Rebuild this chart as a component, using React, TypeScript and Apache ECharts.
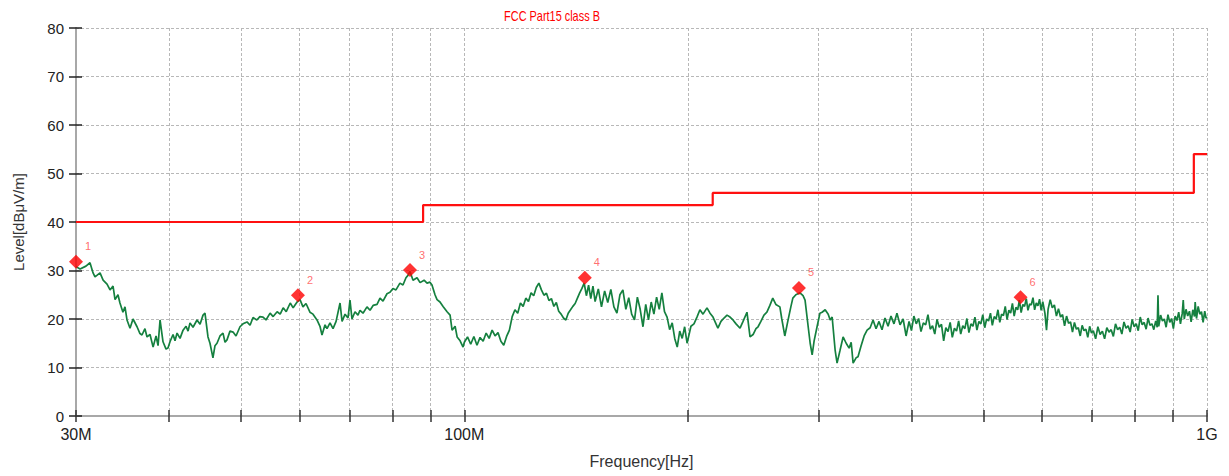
import React, { useEffect, useRef } from "react";
import * as echarts from "echarts";

const chartTitle = "FCC Part15 class B";
const xAxisName = "Frequency[Hz]";
const yAxisName = "Level[dBμV/m]";

// Limit line (MHz, dBμV/m)
const limitFreqs = [30, 88, 88, 216, 216, 960, 960, 1000];
const limitLevels = [40, 40, 43.5, 43.5, 46, 46, 54, 54];

// Peak markers
const markerNames = ["1", "2", "3", "4", "5", "6"];
const markerFreqs = [30, 59.7, 84.5, 145.3, 282.2, 561];
const markerLevels = [31.8, 24.9, 30.1, 28.5, 26.4, 24.5];

// Axis ticks
const xTickValues = [30, 40, 50, 60, 70, 80, 90, 100, 200, 300, 400, 500, 600, 700, 800, 900, 1000];
const xLabelValues = [30, 100, 1000];
const xLabelTexts = ["30M", "100M", "1G"];

// Measured trace [MHz, dBμV/m]
const trace30to50 = [
  [30.0, 30.8], [30.38, 30.3], [30.94, 30.9], [31.33, 31.6], [31.63, 29.5], [31.82, 28.7], [32.32, 29.5], [32.63, 28.0],
  [33.03, 27.2], [33.34, 26.0], [33.65, 26.8], [33.86, 24.0], [34.17, 25.0], [34.38, 23.3], [34.7, 21.4], [34.92, 22.5],
  [35.14, 19.8], [35.47, 18.1], [35.8, 20.0], [36.25, 18.4], [36.58, 17.0], [36.81, 16.7], [37.15, 18.0], [37.39, 16.3],
  [37.74, 16.8], [38.1, 14.2], [38.45, 16.5], [38.69, 14.5], [38.93, 19.8], [39.29, 15.3], [39.66, 13.8], [39.9, 14.0],
  [40.15, 15.3], [40.53, 16.8], [40.78, 15.5], [41.04, 17.1], [41.42, 16.0], [41.81, 17.7], [42.2, 18.5], [42.46, 17.5],
  [42.72, 19.2], [43.12, 18.3], [43.66, 19.8], [44.07, 18.9], [44.48, 20.8], [44.75, 21.2], [45.17, 16.3], [45.45, 15.0],
  [45.87, 12.0], [46.16, 14.5], [46.45, 15.0], [46.88, 16.5], [47.32, 17.1], [47.62, 15.2], [47.91, 15.7], [48.36, 17.5],
  [48.82, 17.3], [49.27, 16.5], [49.88, 18.4],
];
const trace50to100 = [
  [50.35, 19.0], [50.98, 19.4], [51.46, 18.7], [51.94, 20.3], [52.56, 19.8], [53.05, 20.5], [53.57, 20.4], [54.07, 19.8],
  [54.76, 21.2], [55.28, 20.5], [55.97, 21.5], [56.5, 21.0], [57.03, 22.3], [57.57, 21.5], [58.29, 23.3], [58.82, 22.3],
  [59.54, 23.5], [60.08, 24.0], [60.64, 22.5], [61.21, 23.2], [61.96, 21.4], [62.55, 21.0], [63.33, 19.8], [63.92, 18.5],
  [64.32, 16.7], [64.93, 18.8], [65.33, 18.0], [65.94, 19.2], [66.56, 18.0], [67.19, 19.5], [68.02, 23.3], [68.45, 19.5],
  [69.09, 21.0], [69.72, 20.2], [70.15, 23.9], [70.59, 20.0], [71.25, 21.5], [71.91, 20.8], [72.36, 21.8], [73.04, 21.2],
  [73.95, 22.5], [74.65, 21.8], [75.37, 22.8], [76.29, 23.0], [77.0, 24.3], [77.71, 23.7], [78.68, 25.2], [79.41, 25.5],
  [80.15, 26.3], [80.9, 26.0], [81.9, 27.4], [82.68, 27.0], [83.45, 28.5], [83.97, 29.0], [84.5, 29.8], [85.29, 28.0],
  [86.36, 28.5], [87.18, 27.5], [88.27, 28.0], [89.08, 27.4], [89.89, 27.6], [90.46, 27.0], [91.31, 25.0], [91.89, 24.0],
  [92.73, 23.5], [93.62, 22.6], [94.79, 21.5], [95.68, 20.8], [96.27, 17.7], [97.18, 18.5], [97.79, 16.3], [98.7, 15.5],
  [99.61, 14.2],
];
const trace100to200 = [
  [100, 15.2], [101, 16.3], [102, 14.8], [103, 16.4], [104, 14.6], [105, 16.2], [106, 15.4], [107, 17.1],
  [108, 16.0], [109, 17.7], [110, 16.5], [111, 17.2], [112, 15.4], [113, 14.6], [114, 16.4], [115, 17.7],
  [116, 20.5], [117, 21.9], [118, 21.2], [119, 23.3], [120, 22.6], [121, 24.3], [122, 23.6], [123, 25.4],
  [124, 24.8], [125, 26.5], [126, 27.4], [127, 26.0], [128, 24.9], [129, 25.3], [130, 23.8], [131, 24.2],
  [132, 22.6], [133, 23.4], [134, 21.6], [135, 21.0], [136, 20.2], [137, 19.8], [138, 21.2], [139, 21.9],
  [140, 22.6], [141, 23.2], [142, 24.3], [143, 25.4], [144, 26.3], [145, 27.4], [146, 24.8], [147, 27.0],
  [148, 24.2], [149, 26.8], [150, 23.6], [151.5, 26.2], [153, 22.5], [154.5, 25.8], [156, 23.4], [157.5, 26.1],
  [159, 22.5], [160.5, 21.2], [162, 25.0], [163.5, 26.0], [165, 22.0], [166.5, 24.4], [168, 21.0], [169.5, 19.8],
  [171, 24.5], [172.5, 22.0], [174, 18.4], [175.5, 23.0], [177, 19.8], [178.5, 23.5], [180, 21.0], [181.5, 24.5],
  [183, 22.0], [184.5, 25.4], [186, 21.5], [187.5, 20.4], [189, 17.8], [190.5, 19.2], [192, 16.0], [193.5, 14.2],
  [195, 17.5], [196.5, 16.0], [198, 18.4], [199.5, 15.0],
];
const trace200to400 = [
  [201.9, 18.5], [203.8, 19.0], [205.7, 20.4], [207.6, 21.9], [209.6, 21.0], [212.2, 22.3], [214.2, 21.2],
  [216.2, 20.4], [218.2, 19.0], [219.5, 18.1], [221.6, 19.5], [223.7, 20.2], [225.8, 20.8], [227.9, 20.4], [230.0, 19.8],
  [232.2, 19.0], [235.1, 18.1], [237.3, 19.5], [240.2, 21.4], [242.5, 16.3], [244.8, 16.8], [247.0, 18.0], [248.6, 18.4],
  [250.8, 19.5], [253.2, 20.8], [255.5, 21.4], [257.9, 22.8], [260.2, 24.3], [262.7, 23.0], [266.0, 22.5], [267.6, 20.0],
  [270.1, 16.5], [272.6, 19.5], [275.2, 22.5], [276.9, 24.3], [279.5, 25.0], [283.1, 25.4], [285.8, 24.8], [287.6, 23.9],
  [290.4, 18.4], [292.2, 15.0], [294.0, 12.6], [295.8, 15.5], [298.5, 18.4], [301.2, 21.2], [303.2, 21.4], [306.1, 21.9],
  [309.0, 21.0], [310.9, 19.8], [312.8, 20.4], [315.7, 13.6], [317.6, 10.9], [320.5, 13.5], [323.6, 16.3], [326.7, 15.0],
  [329.7, 14.0], [331.8, 15.2], [333.8, 10.9], [336.9, 12.0], [338.9, 12.2], [342.2, 14.5], [345.4, 16.5], [348.6, 17.7],
  [351.9, 18.2], [355.1, 19.8], [358.4, 18.0], [361.7, 19.5], [365.1, 17.8], [368.5, 20.2], [372.0, 18.5], [375.4, 20.6],
  [378.9, 19.0], [382.4, 21.2], [386.1, 18.8], [389.8, 20.0], [393.4, 16.5], [397.0, 19.5],
];
const trace400to600 = [
  [400, 17.6], [403, 20.6], [406, 19.0], [409, 20.1], [412, 17.4], [415, 19.2], [418, 18.8], [421, 20.9],
  [424, 17.9], [427, 18.6], [430, 16.9], [433, 19.9], [436, 18.3], [439, 18.9], [442, 15.5], [445, 18.2],
  [448, 17.4], [451, 19.3], [454, 16.2], [457, 18.1], [460, 17.5], [463, 19.6], [466, 16.9], [469, 18.6],
  [472, 18.0], [475, 20.1], [478, 17.2], [481, 19.0], [484, 18.5], [487, 20.4], [490, 17.7], [493, 19.5],
  [496, 19.0], [499, 20.9], [502, 18.2], [505, 20.0], [508, 19.6], [511, 21.2], [514, 18.7], [517, 20.5],
  [520, 20.0], [523, 21.9], [526, 19.3], [529, 21.0], [532, 20.7], [535, 22.6], [538, 19.9], [541, 21.8],
  [544, 21.2], [547, 23.2], [550, 20.6], [553, 22.4], [556, 21.9], [559, 23.9], [562, 21.3], [565, 23.0],
  [568, 22.6], [571, 24.2], [574, 21.8], [577, 23.1], [580, 22.9], [583, 24.4], [586, 21.9], [589, 23.3],
  [592, 22.7], [595, 24.1], [598, 21.8],
];
const trace600to1000 = [
  [601, 23.6], [605, 21.2], [608, 17.7], [611, 22.0], [615, 24.0], [619, 22.3], [623, 22.9], [627, 20.6],
  [631, 22.1], [635, 20.4], [639, 20.9], [643, 18.6], [647, 20.6], [651, 19.1], [655, 19.4], [659, 17.3],
  [663, 19.3], [667, 17.9], [671, 18.2], [675, 16.5], [679, 18.7], [683, 17.6], [687, 17.9], [691, 16.2],
  [695, 18.5], [699, 17.1], [703, 17.6], [708, 15.9], [713, 18.4], [718, 16.8], [723, 17.5], [728, 15.9],
  [733, 18.2], [738, 17.3], [743, 17.8], [748, 16.4], [753, 19.0], [758, 17.8], [763, 18.3], [768, 16.9],
  [773, 19.4], [778, 18.1], [783, 18.6], [788, 17.3], [793, 19.9], [798, 18.4], [803, 19.0], [808, 17.6],
  [813, 20.4], [818, 18.8], [823, 19.3], [828, 17.9], [833, 20.2], [838, 18.7], [843, 19.0], [848, 17.8],
  [853, 19.6], [857, 18.3], [859, 24.9], [861, 18.5], [866, 20.8], [871, 19.6], [876, 20.0], [881, 18.3],
  [886, 20.9], [891, 19.3], [896, 20.1], [901, 18.0], [906, 20.6], [911, 19.7], [916, 21.4], [921, 19.0],
  [926, 21.1], [929, 23.9], [932, 20.0], [937, 22.0], [942, 20.6], [947, 21.6], [952, 19.4], [957, 21.9],
  [962, 20.5], [964, 23.5], [968, 20.1], [973, 22.6], [978, 21.0], [983, 21.5], [988, 19.3], [993, 21.6],
  [997, 20.2], [1000, 20.4],
];

const FONT = "'Liberation Sans', Arial, sans-serif";

export default function App() {
  const ref = useRef<HTMLDivElement>(null);

  useEffect(() => {
    if (!ref.current) return;
    const chart = echarts.init(ref.current, null, { renderer: "svg" });

    const traceData = [
      ...trace30to50, ...trace50to100, ...trace100to200, ...trace200to400, ...trace400to600, ...trace600to1000,
    ];
    const limitData = limitFreqs.map((f, i) => [f, limitLevels[i]]);
    const markerData = markerFreqs.map((f, i) => ({ name: markerNames[i], value: [f, markerLevels[i]] }));

    const gridLine = { lineStyle: { color: "#b8b8b8", width: 1, type: [3, 2] as any } };

    const xBase = {
      type: "log" as const,
      logBase: 10,
      min: 30,
      max: 1000,
      position: "bottom" as const,
    };

    chart.setOption({
      animation: false,
      backgroundColor: "#ffffff",
      textStyle: { fontFamily: FONT },
      graphic: [
        {
          type: "text",
          x: 552,
          y: 17,
          scaleX: 0.78,
          style: {
            text: chartTitle,
            fill: "#ff0000",
            fontSize: 14,
            fontFamily: FONT,
            textAlign: "center",
            textVerticalAlign: "middle",
          },
        },
      ],
      grid: { left: 76, right: 22, top: 28, bottom: 60 },
      xAxis: [
        {
          ...xBase,
          name: xAxisName,
          nameLocation: "middle",
          nameGap: 37,
          nameTextStyle: { fontSize: 16, color: "#333", fontFamily: FONT },
          axisLine: { show: true, onZero: false, lineStyle: { color: "#a8a8a8", width: 2 } },
          axisTick: { show: true, length: 6, customValues: xTickValues, lineStyle: { color: "#333", width: 1.5 } },
          axisLabel: {
            show: true,
            customValues: xLabelValues,
            margin: 10,
            fontSize: 16,
            color: "#222",
            fontFamily: FONT,
            formatter: (v: number) => {
              const idx = xLabelValues.findIndex((x) => Math.abs(x - v) < 1e-6 * x);
              return idx >= 0 ? xLabelTexts[idx] : "";
            },
          },
          splitLine: { show: true, ...gridLine },
          minorTick: { show: false },
        },
        {
          ...xBase,
          axisLine: { show: false, onZero: false },
          axisTick: { show: true, inside: true, length: 6, customValues: xTickValues, lineStyle: { color: "#333", width: 1.5 } },
          axisLabel: { show: false },
          splitLine: { show: false },
        },
      ],
      yAxis: [
        {
          type: "value",
          min: 0,
          max: 80,
          interval: 10,
          name: yAxisName,
          nameLocation: "middle",
          nameGap: 50,
          nameTextStyle: { fontSize: 15, color: "#333", fontFamily: FONT },
          axisLine: { show: true, onZero: false, lineStyle: { color: "#a8a8a8", width: 2 } },
          axisTick: { show: true, length: 7, lineStyle: { color: "#222", width: 1.5 } },
          axisLabel: { margin: 12, fontSize: 15, color: "#222", fontFamily: FONT },
          splitLine: { show: true, ...gridLine },
        },
        {
          type: "value",
          min: 0,
          max: 80,
          interval: 10,
          position: "left",
          axisLine: { show: false, onZero: false },
          axisTick: { show: true, inside: true, length: 6, lineStyle: { color: "#222", width: 1.5 } },
          axisLabel: { show: false },
          splitLine: { show: false },
        },
      ],
      series: [
        {
          type: "line",
          name: "trace",
          xAxisIndex: 0,
          yAxisIndex: 0,
          data: traceData,
          symbol: "none",
          lineStyle: { color: "#15803f", width: 1.7 },
          z: 2,
        },
        {
          type: "line",
          name: "limit",
          xAxisIndex: 0,
          yAxisIndex: 0,
          data: limitData,
          symbol: "none",
          lineStyle: { color: "#ff1010", width: 2.2 },
          z: 3,
        },
        {
          type: "scatter",
          name: "markers",
          xAxisIndex: 0,
          yAxisIndex: 0,
          data: markerData,
          symbol: "diamond",
          symbolSize: 14,
          itemStyle: { color: "#ff0000" },
          label: {
            show: true,
            formatter: "{b}",
            position: [16, -14],
            color: "#ff4a4a",
            fontSize: 11,
            fontFamily: FONT,
          },
          z: 4,
        },
      ],
    });

    return () => chart.dispose();
  }, []);

  return (
    <div
      ref={ref}
      style={{ position: "fixed", left: 0, top: 0, width: 1229, height: 476, background: "#fff" }}
    />
  );
}
